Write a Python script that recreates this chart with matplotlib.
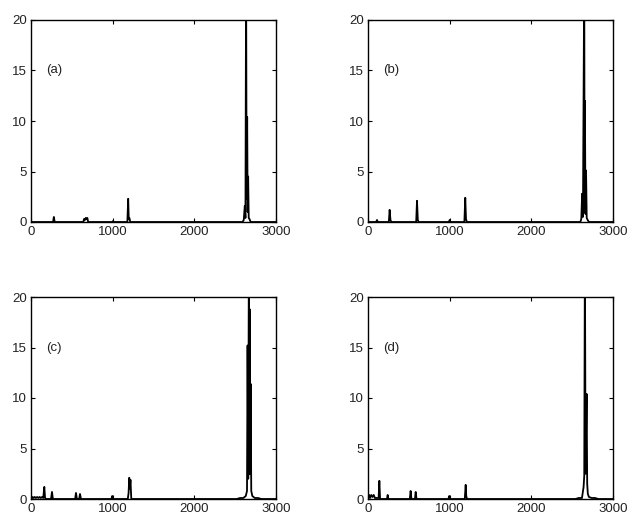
import matplotlib
matplotlib.use("Agg")
import matplotlib.pyplot as plt

plt.rcParams['font.family'] = ['Liberation Sans', 'DejaVu Sans']

#--------------- spectra ----------#
a_x = [0, 270, 280, 290, 640, 650, 660, 670, 680, 690, 700, 1000, 1005, 1010,
       1180, 1190, 1197, 1205, 1215, 2590, 2605, 2618, 2626, 2634, 2640, 2647,
       2653, 2659, 2666, 2675, 2690, 3000]
a_y = [0, 0, 0.5, 0, 0, 0.3, 0.2, 0.4, 0.3, 0.4, 0, 0, 0.1, 0,
       0, 2.3, 0.3, 0.4, 0, 0, 0.2, 1.6, 0.4, 25, 2.3, 10.4,
       1.0, 4.5, 0.4, 0.3, 0, 0]

b_x = [0, 100, 110, 120, 255, 265, 275, 285, 590, 600, 610, 620, 990, 1000, 1010,
       1180, 1191, 1200, 1210, 2600, 2612, 2622, 2632, 2648, 2652, 2656, 2663,
       2670, 2678, 2690, 2705, 3000]
b_y = [0, 0, 0.2, 0, 0, 1.2, 0.2, 0, 0, 2.1, 0.2, 0, 0, 0.2, 0,
       0, 2.4, 0.3, 0, 0, 0.3, 2.8, 0.5, 25, 1.0, 12.0, 0.8,
       5.1, 0.4, 0.2, 0, 0]

c_x = [0, 20, 30, 45, 60, 75, 90, 105, 120, 135, 150, 163, 172, 185, 245, 257, 268,
       540, 551, 562, 590, 600, 612, 985, 995, 1005, 1185, 1195, 1203, 1210, 1218,
       1228, 2520, 2560, 2600, 2630, 2645, 2652, 2660, 2668, 2672, 2677, 2683,
       2689, 2697, 2710, 2740, 2780, 2820, 3000]
c_y = [0, 0.2, 0.1, 0.2, 0.1, 0.2, 0.1, 0.2, 0.1, 0.2, 0.1, 1.2, 0.1, 0, 0, 0.7, 0,
       0, 0.6, 0, 0, 0.5, 0, 0, 0.3, 0, 0, 0.6, 2.1, 1.0, 1.9,
       0, 0, 0.1, 0.1, 0.3, 0.8, 15.2, 2.0, 25, 2.5, 18.8, 2.5,
       11.4, 0.8, 0.3, 0.1, 0.1, 0, 0]

d_x = [0, 15, 25, 40, 55, 70, 85, 100, 130, 139, 148, 232, 241, 250, 512, 522, 532,
       575, 584, 594, 985, 995, 1005, 1185, 1196, 1203, 1212, 2540, 2580, 2620,
       2640, 2648, 2656, 2664, 2677, 2684, 2692, 2705, 2740, 2780, 2820, 3000]
d_y = [0, 0.4, 0.1, 0.4, 0.2, 0.4, 0.1, 0.1, 0.1, 1.8, 0, 0, 0.4, 0, 0, 0.8, 0,
       0, 0.7, 0, 0, 0.3, 0, 0, 1.4, 0.3, 0, 0, 0.1, 0.1,
       1.2, 2.3, 25, 2.5, 10.4, 1.5, 0.5, 0.2, 0.1, 0.1, 0, 0]

panels = [("(a)", a_x, a_y), ("(b)", b_x, b_y), ("(c)", c_x, c_y), ("(d)", d_x, d_y)]
x_ticks = [0, 1000, 2000, 3000]
y_ticks = [0, 5, 10, 15, 20]

#--------------- figure ----------#
fig = plt.figure(figsize=(6.27, 5.18), dpi=100)
positions = [
    [31 / 627, 296 / 518, 245 / 627, 202 / 518],
    [368 / 627, 296 / 518, 245 / 627, 202 / 518],
    [31 / 627, 19 / 518, 245 / 627, 202 / 518],
    [368 / 627, 19 / 518, 245 / 627, 202 / 518],
]

for pos, (label, xs, ys) in zip(positions, panels):
    ax = fig.add_axes(pos)
    ax.plot(xs, ys, color='black', linewidth=1.3)
    ax.set_xlim(0, 3000)
    ax.set_ylim(0, 20)
    ax.set_xticks(x_ticks)
    ax.set_yticks(y_ticks)
    ax.tick_params(direction='in', top=True, right=True, length=3, width=0.8,
                   labelsize=9.5, labelcolor='#222222', pad=3)
    for s in ax.spines.values():
        s.set_linewidth(1.0)
    ax.text(180, 15, label, fontsize=9.5, color='#222222', ha='left', va='center')

fig.savefig("out.png", dpi=100)
